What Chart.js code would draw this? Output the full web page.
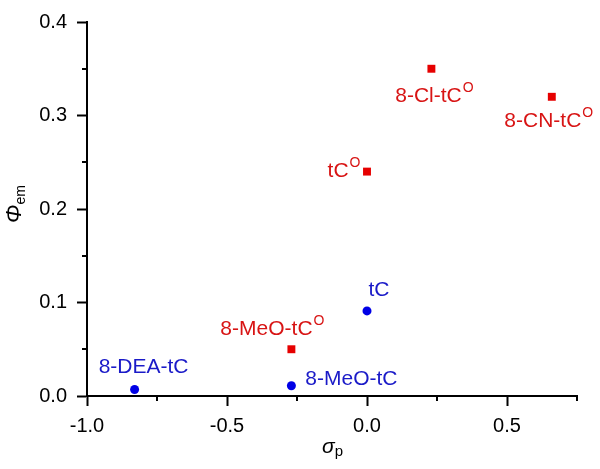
<!DOCTYPE html>
<html>
<head>
<meta charset="utf-8">
<script src="https://cdn.jsdelivr.net/npm/chart.js@4.4.1/dist/chart.umd.min.js"></script>
<style>
  body { margin: 0; background: #fff; }
  #wrap { width: 600px; height: 469px; }
</style>
</head>
<body>
<div id="wrap"><canvas id="myChart" width="600" height="469"></canvas></div>
<script>
// tC family (blue circles)
const tcNames = ["8-DEA-tC", "8-MeO-tC", "tC"];
const tcSigma = [-0.83, -0.27, 0.0];
const tcPhi = [0.007, 0.011, 0.091];

// tC^O family (red squares), every name gets a superscript O
const tcoNames = ["8-MeO-tC", "tC", "8-Cl-tC", "8-CN-tC"];
const tcoSup = "O";
const tcoSigma = [-0.27, 0.0, 0.23, 0.66];
const tcoPhi = [0.05, 0.24, 0.35, 0.32];

// axis ticks
const xMajor = [-1.0, -0.5, 0.0, 0.5];
const xMinor = [-0.75, -0.25, 0.25, 0.75];
const yMajor = [0.0, 0.1, 0.2, 0.3, 0.4];
const yMinor = [0.05, 0.15, 0.25, 0.35];

const FONT = "'Liberation Sans', Arial, sans-serif";
const RED = "#e60000";
const BLUE = "#0000e6";
const RED_TXT = "#d81414";
const BLUE_TXT = "#1a1ac8";

// where each label sits relative to its point (centre of text, px)
const tcLabelPos = [[9, -22], [60, -7], [12, -21]];
const tcoLabelPos = [[-19, -20], [-23, 0], [3, 27], [-3, 24]];

function toPoints(xs, ys) {
  return xs.map((x, i) => ({ x: x, y: ys[i] }));
}

function drawLabel(ctx, x, y, main, sup, color) {
  ctx.fillStyle = color;
  ctx.textBaseline = "middle";
  ctx.textAlign = "left";
  ctx.font = "21px " + FONT;
  let wMain = ctx.measureText(main).width;
  let wSup = 0;
  if (sup) {
    ctx.font = "14px " + FONT;
    wSup = ctx.measureText(sup).width + 1;
  }
  let left = x - (wMain + wSup) / 2;
  ctx.font = "21px " + FONT;
  ctx.fillText(main, left, y);
  if (sup) {
    ctx.font = "14px " + FONT;
    ctx.fillText(sup, left + wMain + 1, y - 8);
  }
}

// point labels
const labelPlugin = {
  id: "pointLabels",
  afterDatasetsDraw(chart) {
    const ctx = chart.ctx;
    ctx.save();
    chart.getDatasetMeta(0).data.forEach((pt, i) => {
      drawLabel(ctx, pt.x + tcLabelPos[i][0], pt.y + tcLabelPos[i][1], tcNames[i], "", BLUE_TXT);
    });
    chart.getDatasetMeta(1).data.forEach((pt, i) => {
      drawLabel(ctx, pt.x + tcoLabelPos[i][0], pt.y + tcoLabelPos[i][1], tcoNames[i], tcoSup, RED_TXT);
    });
    ctx.restore();
  }
};

// minor ticks + axis titles with subscripts
const axisPlugin = {
  id: "axisExtras",
  afterDraw(chart) {
    const ctx = chart.ctx;
    const xs = chart.scales.x;
    const ys = chart.scales.y;
    const area = chart.chartArea;
    ctx.save();
    ctx.strokeStyle = "#000";
    ctx.lineWidth = 2;
    ctx.beginPath();
    xMinor.forEach(v => {
      let px = Math.round(xs.getPixelForValue(v));
      ctx.moveTo(px, area.bottom);
      ctx.lineTo(px, area.bottom + 5);
    });
    yMinor.forEach(v => {
      let py = Math.round(ys.getPixelForValue(v));
      ctx.moveTo(area.left, py);
      ctx.lineTo(area.left - 5, py);
    });
    ctx.stroke();

    ctx.fillStyle = "#000";
    ctx.textAlign = "left";
    ctx.textBaseline = "alphabetic";

    // x title: sigma_p
    ctx.font = "italic 21px " + FONT;
    let sx = 322;
    ctx.fillText("σ", sx, 453);
    let ws = ctx.measureText("σ").width;
    ctx.font = "15px " + FONT;
    ctx.fillText("p", sx + ws, 456);

    // y title: Phi_em (rotated)
    ctx.translate(21, 223);
    ctx.rotate(-Math.PI / 2);
    ctx.font = "italic 22px " + FONT;
    ctx.fillText("Φ", 0, 0);
    let wp = ctx.measureText("Φ").width;
    ctx.font = "14px " + FONT;
    ctx.fillText("em", wp, 4);
    ctx.restore();
  }
};

const tickFont = { size: 20, family: FONT };

new Chart("myChart", {
  type: "scatter",
  data: {
    datasets: [
      {
        data: toPoints(tcSigma, tcPhi),
        pointStyle: "circle",
        pointRadius: 4.5,
        pointHoverRadius: 4.5,
        backgroundColor: BLUE,
        borderColor: BLUE,
        borderWidth: 0
      },
      {
        data: toPoints(tcoSigma, tcoPhi),
        pointStyle: "rect",
        pointRadius: 5.6,
        pointHoverRadius: 5.6,
        backgroundColor: RED,
        borderColor: RED,
        borderWidth: 0
      }
    ]
  },
  options: {
    responsive: false,
    animation: false,
    layout: { padding: { top: 19, right: 23, left: 0, bottom: 0 } },
    plugins: { legend: { display: false }, tooltip: { enabled: false } },
    scales: {
      x: {
        type: "linear",
        min: -1.0,
        max: 0.75,
        afterBuildTicks: s => { s.ticks = xMajor.map(v => ({ value: v })); },
        afterFit: s => { s.height = 73; },
        border: { display: true, color: "#000", width: 2 },
        grid: { drawOnChartArea: false, tickLength: 10, tickColor: "#000", tickWidth: 2 },
        ticks: { color: "#000", font: tickFont, padding: 8, maxRotation: 0, autoSkip: false,
                 callback: v => v.toFixed(1) }
      },
      y: {
        type: "linear",
        min: 0,
        max: 0.4,
        afterBuildTicks: s => { s.ticks = yMajor.map(v => ({ value: v })); },
        afterFit: s => { s.width = 87; },
        border: { display: true, color: "#000", width: 2 },
        grid: { drawOnChartArea: false, tickLength: 10, tickColor: "#000", tickWidth: 2 },
        ticks: { color: "#000", font: tickFont, padding: 10, autoSkip: false,
                 callback: v => v.toFixed(1) }
      }
    }
  },
  plugins: [labelPlugin, axisPlugin]
});
</script>
</body>
</html>
